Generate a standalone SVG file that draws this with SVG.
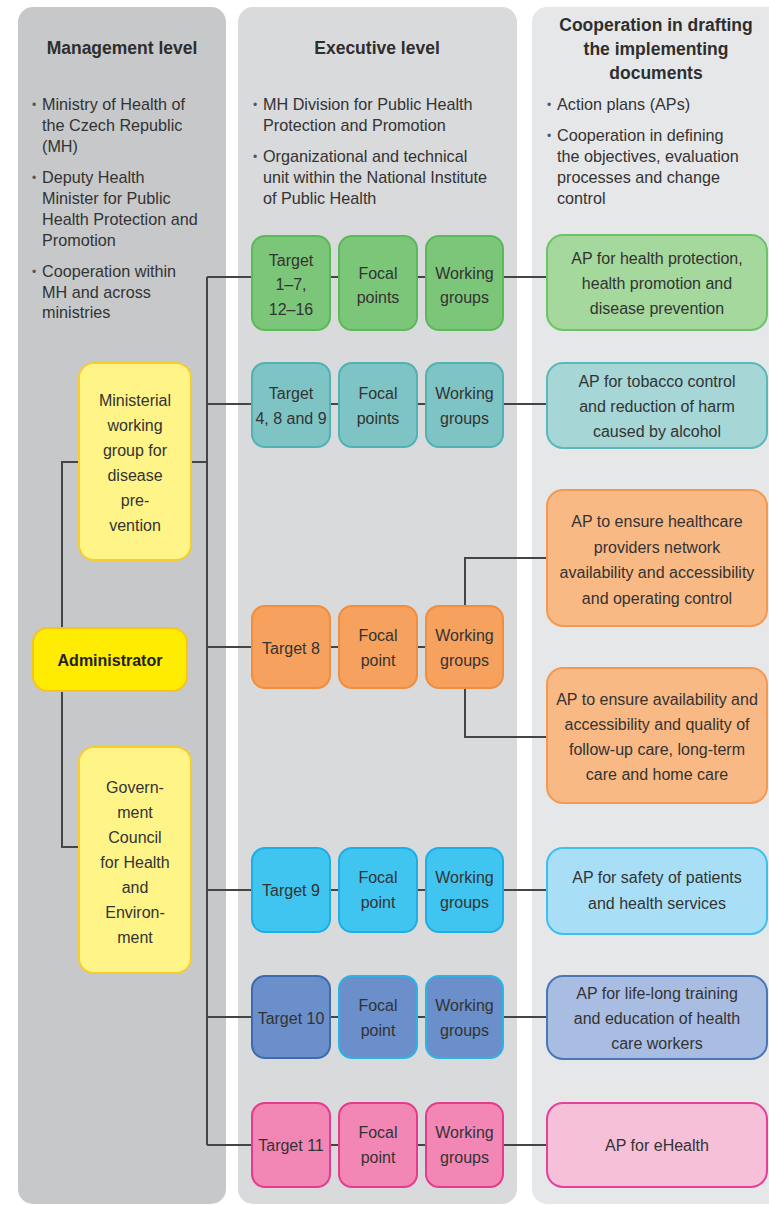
<svg xmlns="http://www.w3.org/2000/svg" width="769" height="1205" viewBox="0 0 769 1205">
<style>
text{font-family:"Liberation Sans",Arial,sans-serif;fill:#333333;}
.hd{font-size:17.5px;font-weight:bold;text-anchor:middle;fill:#2e2e2e;}
.bl{font-size:16.2px;}
.bu{font-size:12px;fill:#555;}
.bx{font-size:16px;text-anchor:middle;}
.adm{font-size:16px;font-weight:bold;text-anchor:middle;fill:#222;}
.cn{fill:none;stroke:#454545;stroke-width:2;}
.y{fill:#fff487;stroke:#f6cd2c;stroke-width:2;}
.ya{fill:#ffec00;stroke:#f6c51c;stroke-width:2;}
.g{fill:#7cc679;stroke:#5cb95a;stroke-width:2;}
.ga{fill:#a4d89c;stroke:#6cc36a;stroke-width:2;}
.t{fill:#7fc4c4;stroke:#50b2b3;stroke-width:2;}
.ta{fill:#a6d6d6;stroke:#5ab8ba;stroke-width:2;}
.o{fill:#f6a25e;stroke:#f08d3f;stroke-width:2;}
.oa{fill:#f9b985;stroke:#f29a52;stroke-width:2;}
.s{fill:#40c5f0;stroke:#1daee6;stroke-width:2;}
.sa{fill:#a8dff7;stroke:#3fbfee;stroke-width:2;}
.b{fill:#6a8fca;stroke:#2ab4e6;stroke-width:2;}
.bt{fill:#6a8fca;stroke:#3d6bb0;stroke-width:2;}
.ba{fill:#a9bde3;stroke:#4a76b6;stroke-width:2;}
.p{fill:#f287b6;stroke:#e63a8c;stroke-width:2;}
.pa{fill:#f6c0d9;stroke:#e6419a;stroke-width:2;}
</style>
<rect width="769" height="1205" fill="#ffffff"/>
<g id="columns">
<rect x="18" y="7" width="208" height="1197" rx="15" fill="#c7c8ca"/>
<rect x="238" y="7" width="279" height="1197" rx="15" fill="#d9dadc"/>
<rect x="532" y="7" width="260" height="1197" rx="15" fill="#e6e7e8"/>
</g>
<g id="headers">
<text class="hd" x="122" y="54">Management level</text>
<text class="hd" x="377" y="54">Executive level</text>
<text class="hd" x="656" y="31">Cooperation in drafting</text>
<text class="hd" x="656" y="55">the implementing</text>
<text class="hd" x="656" y="79">documents</text>
</g>
<g id="notes-management">
<text class="bu" x="32" y="109">•</text>
<text class="bl" x="42" y="110">Ministry of Health of</text>
<text class="bl" x="42" y="131">the Czech Republic</text>
<text class="bl" x="42" y="152">(MH)</text>
<text class="bu" x="32" y="182">•</text>
<text class="bl" x="42" y="183">Deputy Health</text>
<text class="bl" x="42" y="204">Minister for Public</text>
<text class="bl" x="42" y="225">Health Protection and</text>
<text class="bl" x="42" y="246">Promotion</text>
<text class="bu" x="32" y="276">•</text>
<text class="bl" x="42" y="277">Cooperation within</text>
<text class="bl" x="42" y="298">MH and across</text>
<text class="bl" x="42" y="318">ministries</text>
</g>
<g id="notes-executive">
<text class="bu" x="253" y="109">•</text>
<text class="bl" x="263" y="110">MH Division for Public Health</text>
<text class="bl" x="263" y="131">Protection and Promotion</text>
<text class="bu" x="253" y="161">•</text>
<text class="bl" x="263" y="162">Organizational and technical</text>
<text class="bl" x="263" y="183">unit within the National Institute</text>
<text class="bl" x="263" y="204">of Public Health</text>
</g>
<g id="notes-cooperation">
<text class="bu" x="547" y="109">•</text>
<text class="bl" x="557" y="110">Action plans (APs)</text>
<text class="bu" x="547" y="140">•</text>
<text class="bl" x="557" y="141">Cooperation in defining</text>
<text class="bl" x="557" y="162">the objectives, evaluation</text>
<text class="bl" x="557" y="183">processes and change</text>
<text class="bl" x="557" y="204">control</text>
</g>
<g id="connectors">
<path class="cn" d="M79 462H62V847H79"/>
<path class="cn" d="M191 462H207"/>
<path class="cn" d="M207 277V1145"/>
<path class="cn" d="M207 277H252M330 277H339M417 277H426M503 277H547"/>
<path class="cn" d="M207 404H252M330 404H339M417 404H426M503 404H547"/>
<path class="cn" d="M207 647H252M330 647H339M417 647H426"/>
<path class="cn" d="M465 606V558H547M465 688V737H547"/>
<path class="cn" d="M207 890H252M330 890H339M417 890H426M503 890H547"/>
<path class="cn" d="M207 1017H252M330 1017H339M417 1017H426M503 1017H547"/>
<path class="cn" d="M207 1145H252M330 1145H339M417 1145H426M503 1145H547"/>
</g>
<g id="ministerial-wg">
<rect class="y" x="79" y="363" width="112" height="197" rx="15"/>
<text class="bx" x="135" y="406">Ministerial</text>
<text class="bx" x="135" y="431">working</text>
<text class="bx" x="135" y="456">group for</text>
<text class="bx" x="135" y="481">disease</text>
<text class="bx" x="135" y="506">pre-</text>
<text class="bx" x="135" y="531">vention</text>
</g>
<g id="administrator">
<rect class="ya" x="33" y="628" width="154" height="63" rx="15"/>
<text class="adm" x="110" y="666">Administrator</text>
</g>
<g id="government-council">
<rect class="y" x="79" y="747" width="112" height="226" rx="15"/>
<text class="bx" x="135" y="793">Govern-</text>
<text class="bx" x="135" y="818">ment</text>
<text class="bx" x="135" y="843">Council</text>
<text class="bx" x="135" y="868">for Health</text>
<text class="bx" x="135" y="893">and</text>
<text class="bx" x="135" y="918">Environ-</text>
<text class="bx" x="135" y="943">ment</text>
</g>
<g id="row1-target">
<rect class="g" x="252" y="236" width="78" height="94" rx="13"/>
<text class="bx" x="291" y="266">Target</text>
<text class="bx" x="291" y="290">1–7,</text>
<text class="bx" x="291" y="315">12–16</text>
</g>
<g id="row1-focal">
<rect class="g" x="339" y="236" width="78" height="94" rx="13"/>
<text class="bx" x="378" y="279">Focal</text>
<text class="bx" x="378" y="303">points</text>
</g>
<g id="row1-working">
<rect class="g" x="426" y="236" width="77" height="94" rx="13"/>
<text class="bx" x="464.5" y="279">Working</text>
<text class="bx" x="464.5" y="303">groups</text>
</g>
<g id="row1-ap">
<rect class="ga" x="547" y="235" width="220" height="95" rx="16"/>
<text class="bx" x="657" y="264">AP for health protection,</text>
<text class="bx" x="657" y="289">health promotion and</text>
<text class="bx" x="657" y="314">disease prevention</text>
</g>
<g id="row2-target">
<rect class="t" x="252" y="363" width="78" height="84" rx="13"/>
<text class="bx" x="291" y="399">Target</text>
<text class="bx" x="291" y="424">4, 8 and 9</text>
</g>
<g id="row2-focal">
<rect class="t" x="339" y="363" width="78" height="84" rx="13"/>
<text class="bx" x="378" y="399">Focal</text>
<text class="bx" x="378" y="424">points</text>
</g>
<g id="row2-working">
<rect class="t" x="426" y="363" width="77" height="84" rx="13"/>
<text class="bx" x="464.5" y="399">Working</text>
<text class="bx" x="464.5" y="424">groups</text>
</g>
<g id="row2-ap">
<rect class="ta" x="547" y="363" width="220" height="85" rx="16"/>
<text class="bx" x="657" y="387">AP for tobacco control</text>
<text class="bx" x="657" y="412">and reduction of harm</text>
<text class="bx" x="657" y="437">caused by alcohol</text>
</g>
<g id="row3-target">
<rect class="o" x="252" y="606" width="78" height="82" rx="13"/>
<text class="bx" x="291" y="654">Target 8</text>
</g>
<g id="row3-focal">
<rect class="o" x="339" y="606" width="78" height="82" rx="13"/>
<text class="bx" x="378" y="641">Focal</text>
<text class="bx" x="378" y="666">point</text>
</g>
<g id="row3-working">
<rect class="o" x="426" y="606" width="77" height="82" rx="13"/>
<text class="bx" x="464.5" y="641">Working</text>
<text class="bx" x="464.5" y="666">groups</text>
</g>
<g id="row3-ap-network">
<rect class="oa" x="547" y="490" width="220" height="136" rx="16"/>
<text class="bx" x="657" y="527">AP to ensure healthcare</text>
<text class="bx" x="657" y="553">providers network</text>
<text class="bx" x="657" y="578">availability and accessibility</text>
<text class="bx" x="657" y="604">and operating control</text>
</g>
<g id="row3-ap-care">
<rect class="oa" x="547" y="668" width="220" height="135" rx="16"/>
<text class="bx" x="657" y="705">AP to ensure availability and</text>
<text class="bx" x="657" y="730">accessibility and quality of</text>
<text class="bx" x="657" y="755">follow-up care, long-term</text>
<text class="bx" x="657" y="780">care and home care</text>
</g>
<g id="row4-target">
<rect class="s" x="252" y="848" width="78" height="84" rx="13"/>
<text class="bx" x="291" y="896">Target 9</text>
</g>
<g id="row4-focal">
<rect class="s" x="339" y="848" width="78" height="84" rx="13"/>
<text class="bx" x="378" y="883">Focal</text>
<text class="bx" x="378" y="908">point</text>
</g>
<g id="row4-working">
<rect class="s" x="426" y="848" width="77" height="84" rx="13"/>
<text class="bx" x="464.5" y="883">Working</text>
<text class="bx" x="464.5" y="908">groups</text>
</g>
<g id="row4-ap">
<rect class="sa" x="547" y="848" width="220" height="86" rx="16"/>
<text class="bx" x="657" y="883">AP for safety of patients</text>
<text class="bx" x="657" y="909">and health services</text>
</g>
<g id="row5-target">
<rect class="bt" x="252" y="976" width="78" height="82" rx="13"/>
<text class="bx" x="291" y="1024">Target 10</text>
</g>
<g id="row5-focal">
<rect class="b" x="339" y="976" width="78" height="82" rx="13"/>
<text class="bx" x="378" y="1011">Focal</text>
<text class="bx" x="378" y="1036">point</text>
</g>
<g id="row5-working">
<rect class="b" x="426" y="976" width="77" height="82" rx="13"/>
<text class="bx" x="464.5" y="1011">Working</text>
<text class="bx" x="464.5" y="1036">groups</text>
</g>
<g id="row5-ap">
<rect class="ba" x="547" y="976" width="220" height="83" rx="16"/>
<text class="bx" x="657" y="999">AP for life-long training</text>
<text class="bx" x="657" y="1024">and education of health</text>
<text class="bx" x="657" y="1049">care workers</text>
</g>
<g id="row6-target">
<rect class="p" x="252" y="1103" width="78" height="84" rx="13"/>
<text class="bx" x="291" y="1151">Target 11</text>
</g>
<g id="row6-focal">
<rect class="p" x="339" y="1103" width="78" height="84" rx="13"/>
<text class="bx" x="378" y="1138">Focal</text>
<text class="bx" x="378" y="1163">point</text>
</g>
<g id="row6-working">
<rect class="p" x="426" y="1103" width="77" height="84" rx="13"/>
<text class="bx" x="464.5" y="1138">Working</text>
<text class="bx" x="464.5" y="1163">groups</text>
</g>
<g id="row6-ap">
<rect class="pa" x="547" y="1103" width="220" height="84" rx="16"/>
<text class="bx" x="657" y="1151">AP for eHealth</text>
</g>
</svg>
